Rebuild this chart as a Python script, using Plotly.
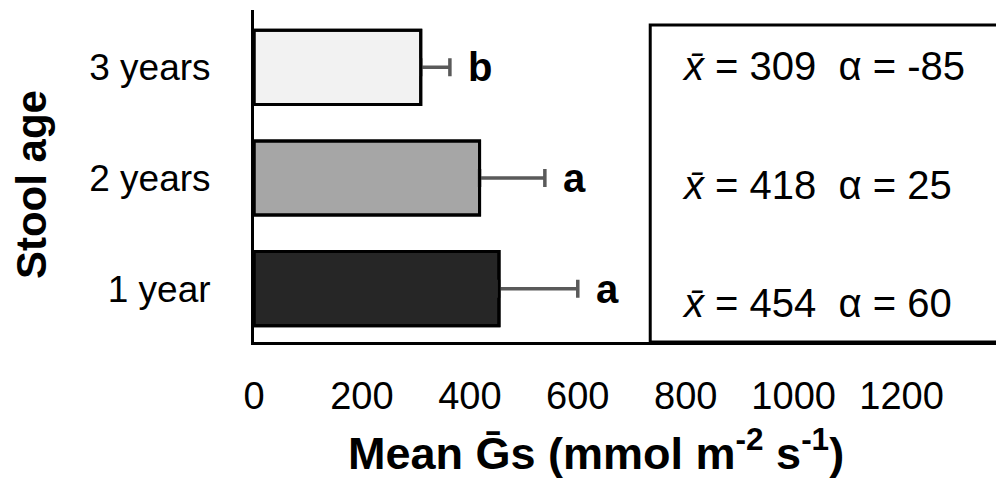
import plotly.graph_objects as go

# Stool age classes (bottom to top) and their mean stomatal conductance
ages = ["1 year", "2 years", "3 years"]
mean_gs = [454, 418, 309]
err_gs = [146, 121, 54]
alpha = [60, 25, -85]
letters = ["a", "a", "b"]
bar_colors = ["#262626", "#a6a6a6", "#f2f2f2"]
x_ticks = [0, 200, 400, 600, 800, 1000, 1200]

FONT = "Liberation Sans, Arial, Helvetica, sans-serif"
BAR_W = 0.67

fig = go.Figure()

# filled bars with one-sided (positive) error bars
fig.add_trace(go.Bar(
    y=ages, x=mean_gs, orientation="h", width=BAR_W,
    marker=dict(color=bar_colors, line=dict(color="black", width=3)),
    error_x=dict(type="data", symmetric=False, array=err_gs,
                 arrayminus=[0] * len(err_gs),
                 color="#5a5a5a", thickness=3.5, width=9),
    hoverinfo="skip",
))
# outline drawn again on top so the base cap of each error bar is hidden
fig.add_trace(go.Bar(
    y=ages, x=mean_gs, orientation="h", width=BAR_W,
    marker=dict(color="rgba(0,0,0,0)", line=dict(color="black", width=3)),
    hoverinfo="skip",
))

annotations = []
# significance letters just past the error-bar caps
for age, m, e, let in zip(ages, mean_gs, err_gs, letters):
    annotations.append(dict(
        x=m + e, y=age, xref="x", yref="y", text=f"<b>{let}</b>",
        showarrow=False, xanchor="left", yanchor="middle", xshift=16,
        font=dict(family=FONT, size=40, color="black"),
    ))

# mean / alpha summary inside the framed panel
row_y = {"1 year": 0.118, "2 years": 0.474, "3 years": 0.831}
for age, m, a in zip(ages, mean_gs, alpha):
    annotations.append(dict(
        x=0.574, y=row_y[age], xref="paper", yref="paper",
        text=f"<i>x\u0304</i> = {m}  \u03b1 = {a}",
        showarrow=False, xanchor="left", yanchor="middle",
        font=dict(family=FONT, size=40, color="black"),
    ))

# axis titles
annotations.append(dict(
    x=0.461, y=-0.325, xref="paper", yref="paper",
    text="<b>Mean \u1e20s (mmol m<sup>-2</sup> s<sup>-1</sup>)</b>",
    showarrow=False, xanchor="center", yanchor="middle",
    font=dict(family=FONT, size=45, color="black"),
))
annotations.append(dict(
    x=-0.299, y=0.473, xref="paper", yref="paper",
    text="<b>Stool age</b>", textangle=-90,
    showarrow=False, xanchor="center", yanchor="middle",
    font=dict(family=FONT, size=42, color="black"),
))

fig.update_layout(
    width=996, height=479,
    margin=dict(l=254, r=0, t=10, b=137),
    plot_bgcolor="white", paper_bgcolor="white",
    showlegend=False, barmode="overlay",
    font=dict(family=FONT, size=40, color="black"),
    xaxis=dict(
        range=[0, 1375], tickvals=x_ticks, ticks="",
        showline=True, linewidth=3, linecolor="black",
        showgrid=False, zeroline=False, ticklabelstandoff=18,
        tickfont=dict(family=FONT, size=38, color="black"),
    ),
    yaxis=dict(
        range=[-0.482, 2.518], ticks="",
        showline=True, linewidth=3, linecolor="black",
        showgrid=False, zeroline=False, ticklabelstandoff=33,
        tickfont=dict(family=FONT, size=37, color="black"),
    ),
    shapes=[dict(
        type="rect", xref="paper", yref="paper",
        x0=0.534, x1=1.05, y0=0, y1=0.955,
        line=dict(color="black", width=3), fillcolor="rgba(0,0,0,0)",
    )],
    annotations=annotations,
)

fig.write_html("out.html")
